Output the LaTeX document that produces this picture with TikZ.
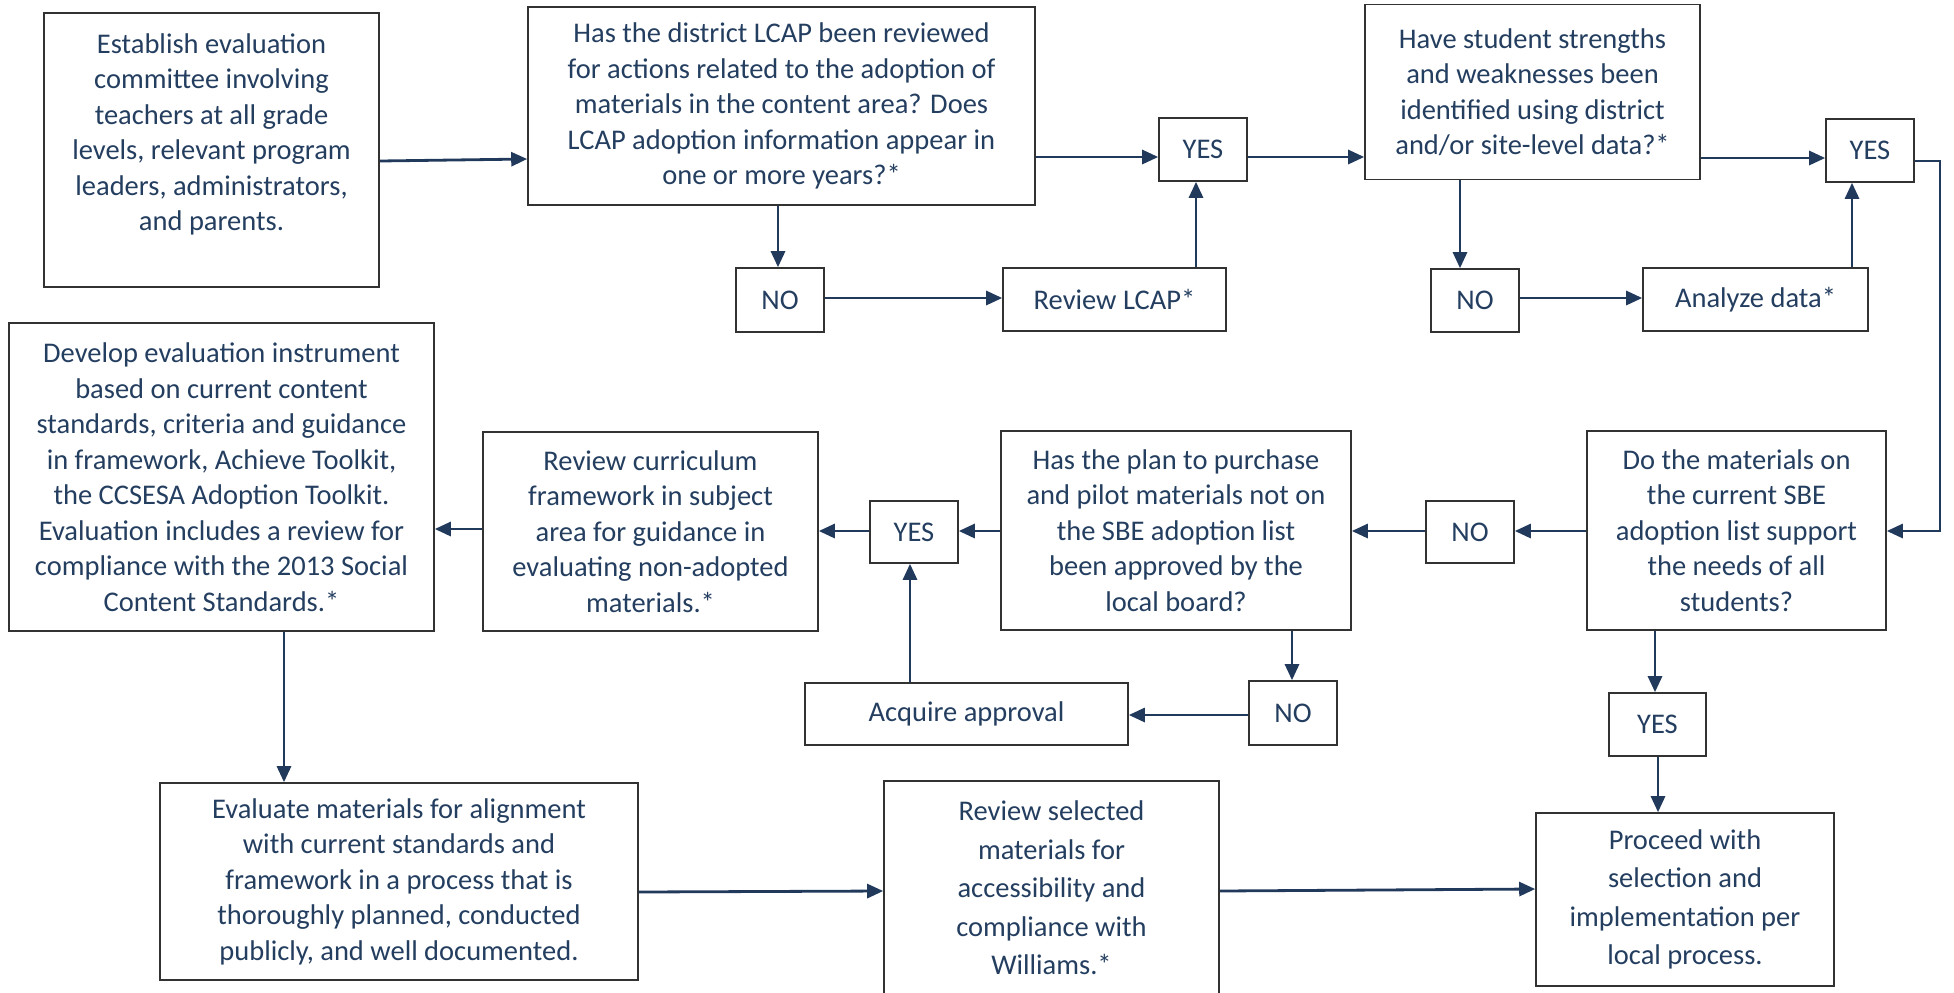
\documentclass[tikz,border=0pt]{standalone}
\usepackage{fontspec}
\setmainfont{Carlito}
\usetikzlibrary{arrows.meta}
\definecolor{txt}{RGB}{36,62,96}
\definecolor{arrc}{RGB}{33,58,92}
\definecolor{boxc}{RGB}{50,50,50}
\newcommand\myfa{\fontsize{14.25pt}{17.75pt}\selectfont}
\newcommand\myfb{\fontsize{14.25pt}{19.25pt}\selectfont}
\tikzset{
  box/.style={draw=boxc, line width=0.8pt, fill=white, inner sep=0pt, align=center, text=txt, font=\myfa},
  wide/.style={box, font=\myfb},
  arr/.style={draw=arrc, line width=1.4pt, -{Triangle[length=8pt,width=7pt]}}
}
\begin{document}
\begin{tikzpicture}[x=0.5pt,y=-0.5pt]
\path[use as bounding box, fill=white] (0,0) rectangle (1954,992);

% top row
\node[box, minimum width=167.5pt, minimum height=137pt] (est) at (211.5,150)
  {Establish evaluation\\committee involving\\teachers at all grade\\levels, relevant program\\leaders, administrators,\\and parents.\\\mbox{}};
\node[box, minimum width=253.5pt, minimum height=99pt] (q1) at (781.5,106)
  {Has the district LCAP been reviewed\\for actions related to the adoption of\\materials in the content area? Does\\LCAP adoption information appear in\\one or more years?*};
\node[box, minimum width=44pt, minimum height=31.5pt] (yes1) at (1203,149.5) {YES};
\node[box, minimum width=44pt, minimum height=32pt] (no1) at (780,300) {NO};
\node[box, minimum width=111.5pt, minimum height=31.5pt] (revlcap) at (1114.5,299.5) {Review LCAP*};
\node[box, minimum width=167.5pt, minimum height=87.5pt] (q2) at (1532.5,92)
  {Have student strengths\\and weaknesses been\\identified using district\\and/or site-level data?*};
\node[box, minimum width=44pt, minimum height=31.5pt] (yes2) at (1870,150.5) {YES};
\node[box, minimum width=44pt, minimum height=31.5pt] (no2) at (1475,300.5) {NO};
\node[box, minimum width=112.5pt, minimum height=31.5pt] (analyze) at (1755.5,299.5) {Analyze data*};

% middle row
\node[box, minimum width=149.5pt, minimum height=99.5pt] (q3) at (1736.5,530.5)
  {Do the materials on\\the current SBE\\adoption list support\\the needs of all\\students?};
\node[box, minimum width=44pt, minimum height=31pt] (no3) at (1470,532) {NO};
\node[box, minimum width=175pt, minimum height=99.5pt] (q4) at (1176,530.5)
  {Has the plan to purchase\\and pilot materials not on\\the SBE adoption list\\been approved by the\\local board?};
\node[box, minimum width=44pt, minimum height=31pt] (yes4) at (914,532) {YES};
\node[box, minimum width=167.5pt, minimum height=99.5pt] (revcur) at (650.5,531.5)
  {Review curriculum\\framework in subject\\area for guidance in\\evaluating non-adopted\\materials.*};
\node[box, minimum width=212.5pt, minimum height=154pt] (develop) at (221.5,477)
  {Develop evaluation instrument\\based on current content\\standards, criteria and guidance\\in framework, Achieve Toolkit,\\the CCSESA Adoption Toolkit.\\Evaluation includes a review for\\compliance with the 2013 Social\\Content Standards.*};
\node[box, minimum width=44pt, minimum height=32pt] (no4) at (1293,713) {NO};
\node[box, minimum width=161.5pt, minimum height=31pt] (acquire) at (966.5,714) {Acquire approval};
\node[box, minimum width=48.5pt, minimum height=31.5pt] (yes3) at (1657.5,724.5) {YES};

% bottom row
\node[box, minimum width=239pt, minimum height=98.5pt] (evaluate) at (399,881.5)
  {Evaluate materials for alignment\\with current standards and\\framework in a process that is\\thoroughly planned, conducted\\publicly, and well documented.};
\node[wide, minimum width=167.5pt, minimum height=107pt] (revsel) at (1051.5,888)
  {Review selected\\materials for\\accessibility and\\compliance with\\Williams.*};
\node[wide, minimum width=149pt, minimum height=86.5pt] (proceed) at (1685,899.5)
  {Proceed with\\selection and\\implementation per\\local process.};

% connectors
\coordinate (rt) at (1940,161);
\draw[arr] (est.east|-0,161) -- (q1.west|-0,159);
\draw[arr] (q1.east|-0,157) -- (yes1.west|-0,157);
\draw[arr] (yes1.east|-0,157) -- (q2.west|-0,157);
\draw[arr] (q2.east|-0,158) -- (yes2.west|-0,158);
\draw[arr] (q1.south-|778,0) -- (no1.north-|778,0);
\draw[arr] (no1.east|-0,298) -- (revlcap.west|-0,298);
\draw[arr] (revlcap.north-|1196,0) -- (yes1.south-|1196,0);
\draw[arr] (q2.south-|1460,0) -- (no2.north-|1460,0);
\draw[arr] (no2.east|-0,298) -- (analyze.west|-0,298);
\draw[arr] (analyze.north-|1852,0) -- (yes2.south-|1852,0);
\draw[arr] (yes2.east|-rt) -- (rt) |- (q3.east|-0,531);
\draw[arr] (q3.west|-0,531) -- (no3.east|-0,531);
\draw[arr] (no3.west|-0,531) -- (q4.east|-0,531);
\draw[arr] (q4.west|-0,531) -- (yes4.east|-0,531);
\draw[arr] (yes4.west|-0,531) -- (revcur.east|-0,531);
\draw[arr] (revcur.west|-0,529) -- (develop.east|-0,529);
\draw[arr] (q4.south-|1292,0) -- (no4.north-|1292,0);
\draw[arr] (no4.west|-0,715) -- (acquire.east|-0,715);
\draw[arr] (acquire.north-|910,0) -- (yes4.south-|910,0);
\draw[arr] (q3.south-|1655,0) -- (yes3.north-|1655,0);
\draw[arr] (yes3.south-|1658,0) -- (proceed.north-|1658,0);
\draw[arr] (develop.south-|284,0) -- (evaluate.north-|284,0);
\draw[arr] (evaluate.east|-0,892) -- (revsel.west|-0,891);
\draw[arr] (revsel.east|-0,891) -- (proceed.west|-0,889);
\end{tikzpicture}
\end{document}
